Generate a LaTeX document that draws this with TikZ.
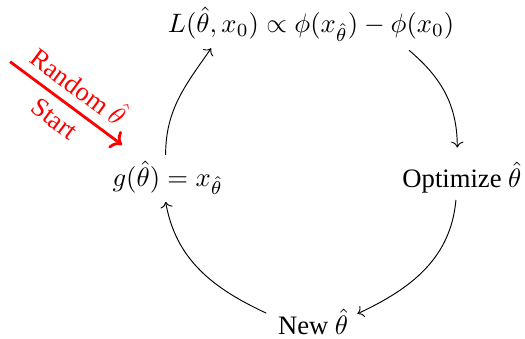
\RequirePackage{fix-cm}
\documentclass[tikz,border=0pt]{standalone}
\usepackage{amsmath,amssymb}
\usepackage{fontspec}
\setmainfont{Liberation Serif}
\usepackage{tikz}
\usetikzlibrary{arrows.meta,positioning}

\begin{document}
\begin{tikzpicture}[font=\fontsize{11.3}{13.6}\selectfont]
    \useasboundingbox (0,0) rectangle (7.83,5.05);

    % Nodes
    \node (loss) at (4.64,4.69) {$L(\hat{\theta},x_0) \propto \phi(x_{\hat{\theta}}) - \phi(x_0)$};
    \node (opt) at (6.89,2.40) {Optimize $\hat{\theta}$};
    \node (new) at (4.67,0.25) {New $\hat{\theta}$};
    \node (gen) at (2.50,2.40) {$g(\hat{\theta}) = x_{\hat{\theta}}$};

    % Cycle
    \draw[->] ([shift={(1.46,-0.39)}]loss.center) to[out=-40,in=90] ([shift={(-0.07,0.45)}]opt.center);
    \draw[->] ([shift={(-0.09,-0.33)}]opt.center) to[out=-95,in=25] ([shift={(0.66,0.12)}]new.center);
    \draw[->] ([shift={(-0.70,0.13)}]new.center) to[out=155,in=-80] ([shift={(-0.03,-0.36)}]gen.center);
    \draw[->] ([shift={(-0.03,0.34)}]gen.center) to[out=90,in=-125] ([shift={(-1.49,-0.36)}]loss.center);

    % Start arrow
    \coordinate (rstart) at (0.15,4.13);
    \draw[red,very thick,->] (rstart) -- ([shift={(-0.68,0.49)}]gen.center)
        node[midway,sloped,above=0.5pt] {Random $\hat{\theta}$}
        node[midway,sloped,below=0.5pt] {Start};
\end{tikzpicture}
\end{document}
